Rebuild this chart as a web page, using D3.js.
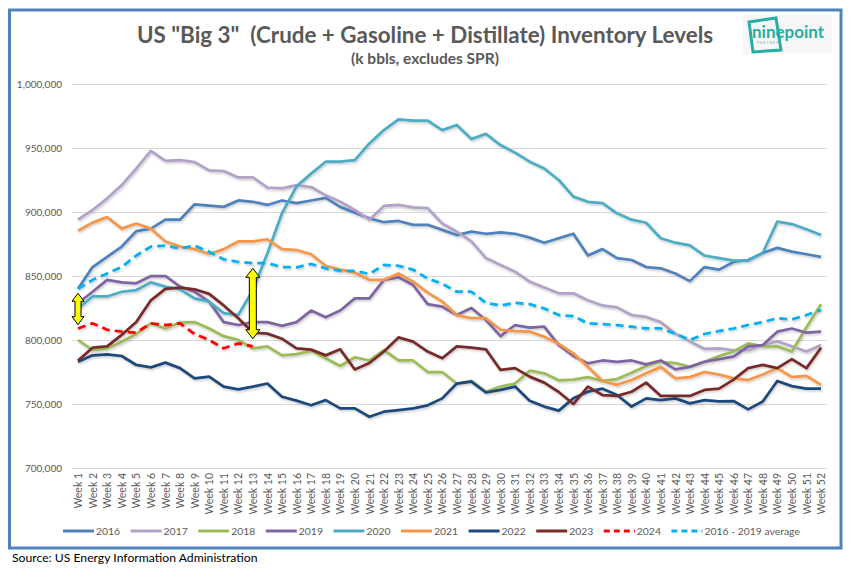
<!DOCTYPE html>
<html><head><meta charset="utf-8">
<script src="https://cdn.jsdelivr.net/npm/d3@7"></script>
<style>
body{margin:0;background:#fff}
svg{display:block;font-family:Lato,"Open Sans",sans-serif}
</style>
</head><body>
<svg id="c" width="853" height="569"></svg>
<script>
const weeks = d3.range(1, 53).map(i => "Week " + i);
const yTicks = [700000, 750000, 800000, 850000, 900000, 950000, 1000000];

const s2016 = [840000,857000,865000,873000,885000,887000,894000,894000,906000,905000,904000,909000,908000,905500,909000,907000,909000,911000,904000,899500,895000,892000,893000,890000,890000,886000,882000,884600,883000,884000,883000,880000,876000,879500,883000,866000,871000,864000,862500,857000,856000,852000,846000,857000,855000,861000,862500,868000,872000,869000,867000,865000];
const s2017 = [894000,901600,910700,921000,934000,947700,940000,940600,939000,932500,932000,927000,927000,919000,918500,921000,919500,913000,908000,901600,894000,904700,905500,903600,903000,891000,884600,877000,864000,858600,853400,845600,841000,836500,836500,831000,827000,825500,819500,818000,814000,805000,799000,793000,793500,792000,792000,796000,799000,795000,791000,796000];
const s2018 = [800000,792000,793500,798700,804700,813000,809000,813600,814000,809000,803000,800000,793500,795000,788000,789000,791500,785700,779700,786500,784000,792000,784000,784000,775000,775000,766000,768000,759600,763600,766000,776000,774000,768500,769000,771000,768000,769500,774500,779700,783000,782000,779000,783000,787500,791000,797400,795000,795000,791000,810000,828000];
const s2019 = [828700,837700,847000,845000,844300,850000,850000,841700,837700,830000,814000,811700,814000,814000,811000,814000,823000,817700,823000,832500,832500,847000,849000,843000,828000,826000,819500,825000,815600,803000,811700,809700,810500,796000,787500,781700,784000,783000,784000,781000,784000,777000,779000,783000,785000,787000,795000,796000,806500,809000,805700,806500];
const s2020 = [824700,834000,834000,837700,839000,845000,841700,839600,832500,830000,821000,819500,839000,867700,899000,920000,930000,939300,939300,940600,953600,964000,972400,971400,971400,964000,968000,957000,961000,952300,946400,939300,934000,925000,912000,908000,907000,899000,894000,891600,879500,876000,874000,866000,864000,862000,862000,868000,892500,890600,886500,882000];
const s2021 = [885400,891700,896000,887000,891000,887000,877000,873000,871000,867200,871000,877000,877000,878700,871000,870300,867000,858000,855000,852600,847000,847000,852000,845600,837000,830000,819500,817000,817000,808000,807000,806500,802600,797000,789600,779000,768000,765000,768700,774000,779000,770000,771000,775000,773000,770000,768700,773000,778000,771000,772000,765000];
const s2022 = [783000,788000,788800,787500,780500,778600,782300,778000,770000,771400,763600,761500,763600,766000,755700,752600,749000,753000,746600,746600,740000,744000,745300,746600,749000,754400,766000,767500,759000,761000,763600,752600,748000,744800,754400,759600,762000,757000,748000,754400,753000,754400,750500,753000,752000,752300,745800,752000,768000,764000,762000,762000];
const s2023 = [783900,794000,795000,804000,814000,831000,840000,841000,839600,836000,827000,817000,805800,805000,801000,793500,792500,788000,792700,777000,782000,791000,802000,798700,791000,785700,795000,794000,792700,776600,778000,771400,766700,759400,750000,763600,757000,756300,759600,766700,756300,756300,756300,761000,762000,769000,778000,780500,778000,785000,778000,794000];
const s2024 = [809000,813000,808000,806500,805800,813000,811700,813000,804700,800000,793500,797400,795000];
const sAvg = [840000,847000,852000,857000,866000,873000,873700,871600,873700,869000,863000,861000,860000,860000,857000,856800,859400,856000,854000,854000,851600,858600,858000,855000,848000,844000,837700,837700,829000,827000,829000,828000,824700,819500,818700,813000,812500,811700,810400,809000,809000,805000,800000,804700,807000,809000,811700,814000,817000,816000,819500,823400];

const seriesNames = ["2016","2017","2018","2019","2020","2021","2022","2023","2024","2016 - 2019 average"];
const seriesData = [s2016,s2017,s2018,s2019,s2020,s2021,s2022,s2023,s2024,sAvg];
const seriesColors = ["#4F81BD","#B3A2C7","#9BBB59","#8064A2","#4BACC6","#F79646","#1F497D","#772C2A","#FF0000","#00B0F0"];
const seriesDashed = [false,false,false,false,false,false,false,false,true,true];

// annotation arrows (gap between 2024 and average)
const arrowWeeks = ["Week 1","Week 13"];
const arrowTop = [836500, 856000];
const arrowBottom = [812000, 801000];

const svg = d3.select("#c");
svg.append("rect").attr("width",853).attr("height",569).attr("fill","#fff");

const defs = svg.append("defs");
const f = defs.append("filter").attr("id","sh").attr("x","-5%").attr("y","-5%").attr("width","110%").attr("height","120%");
f.append("feDropShadow").attr("dx",1).attr("dy",1.5).attr("stdDeviation",1).attr("flood-color","#000").attr("flood-opacity",0.22);

// frame
svg.append("rect").attr("x",9.5).attr("y",10).attr("width",831.5).attr("height",538)
  .attr("fill","#fff").attr("stroke","#4F81BD").attr("stroke-width",3);

const x = d3.scalePoint().domain(weeks).range([78, 821]);
const y = d3.scaleLinear().domain([700000, 1000000]).range([468, 84]);

// gridlines
svg.append("g").selectAll("line").data(yTicks).join("line")
  .attr("x1",72).attr("x2",827)
  .attr("y1",d=>y(d)+0.5).attr("y2",d=>y(d)+0.5)
  .attr("stroke","#D9D9D9").attr("stroke-width",1);

// y axis labels
const yAxis = d3.axisLeft(y).tickValues(yTicks).tickSize(0).tickPadding(0).tickFormat(d3.format(","));
const ya = svg.append("g").attr("transform","translate(62,0)").call(yAxis);
ya.select(".domain").remove();
ya.selectAll("text").attr("fill","#595959").attr("font-size",10).attr("font-family","Lato, sans-serif");

// x axis labels
const xAxis = d3.axisBottom(x).tickSize(0).tickPadding(0);
const xa = svg.append("g").attr("transform","translate(0,468)").call(xAxis);
xa.select(".domain").remove();
xa.selectAll("text").attr("fill","#595959").attr("font-size",10.5).attr("font-family","Lato, sans-serif")
  .attr("text-anchor","end").attr("transform","rotate(-90)")
  .attr("x",-5).attr("y",0).attr("dy","0.35em");

// lines
const line = d3.line().x((d,i)=>x(weeks[i])).y(d=>y(d));
const lg = svg.append("g").attr("filter","url(#sh)");
seriesData.forEach((data,k)=>{
  lg.append("path").datum(data).attr("d",line)
    .attr("fill","none").attr("stroke",seriesColors[k])
    .attr("stroke-width",2.75).attr("stroke-linejoin","round")
    .attr("stroke-dasharray",seriesDashed[k] ? "8,5" : null);
});

// arrows
arrowWeeks.forEach((w,i)=>{
  const cx = x(w), y1 = y(arrowTop[i]), y2 = y(arrowBottom[i]);
  const hw = i===0 ? 6 : 7, bw = i===0 ? 3 : 3.5, hh = i===0 ? 8 : 9;
  const p = d3.path();
  p.moveTo(cx, y1);
  p.lineTo(cx+hw, y1+hh); p.lineTo(cx+bw, y1+hh);
  p.lineTo(cx+bw, y2-hh); p.lineTo(cx+hw, y2-hh);
  p.lineTo(cx, y2);
  p.lineTo(cx-hw, y2-hh); p.lineTo(cx-bw, y2-hh);
  p.lineTo(cx-bw, y1+hh); p.lineTo(cx-hw, y1+hh);
  p.closePath();
  svg.append("path").attr("d",p.toString()).attr("fill","#FFFF00").attr("stroke","#000").attr("stroke-width",1);
});

// title
svg.append("text").attr("x",425).attr("y",43).attr("text-anchor","middle")
  .attr("font-size",22.4).attr("font-weight","bold").attr("fill","#595959")
  .style("white-space","pre")
  .text('US "Big 3"  (Crude + Gasoline + Distillate) Inventory Levels');
svg.append("text").attr("x",425).attr("y",64).attr("text-anchor","middle")
  .attr("font-size",15.5).attr("font-weight","bold").attr("fill","#595959")
  .text("(k bbls, excludes SPR)");

// logo
const logo = svg.append("g");
logo.append("rect").attr("x",743).attr("y",15).attr("width",89).attr("height",39).attr("fill","#F7F7F7");
logo.append("path").attr("d","M749,22 L776,18 L781,50 L753,52 Z").attr("fill","none").attr("stroke","#26ADA5").attr("stroke-width",3);
logo.append("text").attr("x",752).attr("y",38).attr("font-size",17).attr("font-weight","bold").attr("fill","#26ADA5").attr("font-family","Lato, sans-serif").text("ninepoint");
logo.append("text").attr("x",757).attr("y",44).attr("font-size",3.5).attr("fill","#8AA").attr("letter-spacing",1).text("PARTNERS");

// legend
const leg = svg.append("g");
seriesNames.forEach((n,k)=>{
  const lx = 63 + k*67.6, ly = 531;
  leg.append("line").attr("x1",lx).attr("x2",lx+31).attr("y1",ly).attr("y2",ly)
    .attr("stroke",seriesColors[k]).attr("stroke-width",3)
    .attr("stroke-dasharray",seriesDashed[k] ? "6,4" : null);
  leg.append("text").attr("x",lx+33).attr("y",ly).attr("dy","0.35em")
    .attr("font-size",10.4).attr("fill","#595959").text(n);
});

// source
svg.append("text").attr("x",12).attr("y",562).attr("font-size",12.2).attr("fill","#000")
  .text("Source: US Energy Information Administration");
</script>
</body></html>
